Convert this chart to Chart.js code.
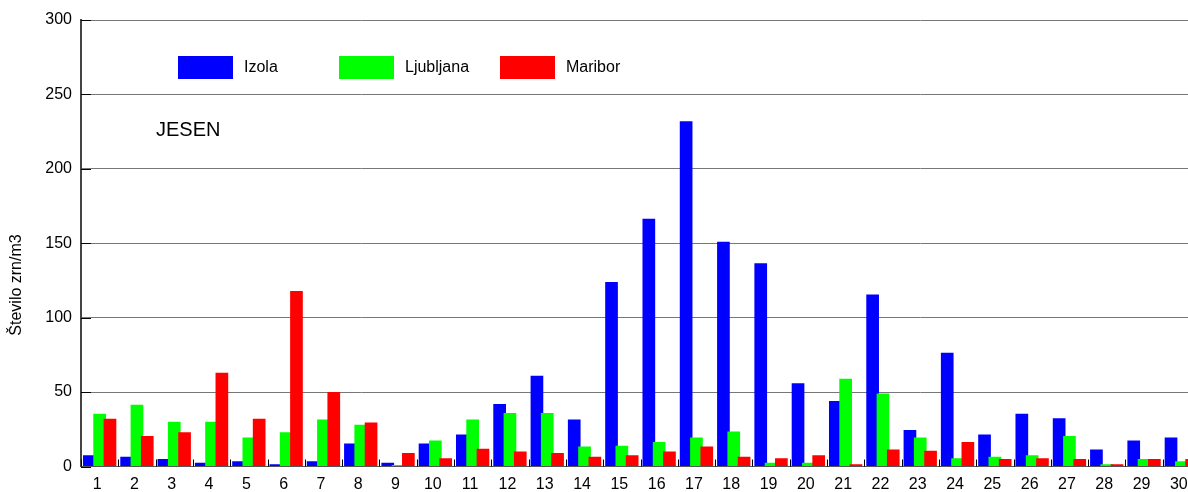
<!DOCTYPE html>
<html>
<head>
<meta charset="utf-8">
<script src="https://cdn.jsdelivr.net/npm/chart.js@4.4.1/dist/chart.umd.min.js"></script>
<style>
  html, body { margin: 0; padding: 0; overflow: hidden; background: #fff; }
</style>
</head>
<body>
<canvas id="jesenChart" width="1204" height="492"></canvas>
<script>
var days = ['1','2','3','4','5','6','7','8','9','10','11','12','13','14','15','16','17','18','19','20','21','22','23','24','25','26','27','28','29','30'];
var izola = [7.5, 6.5, 5, 2.5, 3.5, 1.5, 3.5, 15.5, 2.5, 15.5, 21.5, 42, 61, 31.5, 124, 166.5, 232, 151, 136.5, 56, 44, 115.5, 24.5, 76.5, 21.5, 35.5, 32.5, 11.5, 17.5, 19.5];
var ljubljana = [35.5, 41.5, 30, 30, 19.5, 23, 31.5, 28, 1, 17.5, 31.5, 36, 36, 13.5, 14, 16.5, 19.5, 23.5, 2.5, 2.5, 59, 49, 19.5, 5.5, 6.5, 7.5, 20.5, 1.5, 5, 3.5];
var maribor = [32, 20.5, 23, 63, 32, 118, 50, 29.5, 9, 5.5, 12, 10, 9, 6.5, 7.5, 10, 13.5, 6.5, 5.5, 7.5, 1.5, 11.5, 10.5, 16.5, 5, 5.5, 5, 1.5, 5, 5];
var yTicks = [0, 50, 100, 150, 200, 250, 300];
var seasonLabel = 'JESEN';
var yTitle = 'Število zrn/m3';

var FONT = '"Liberation Sans", Arial, sans-serif';

// draw datasets first-to-last so red overlaps green, green overlaps blue
var drawOrder = {
    id: 'drawOrder',
    beforeDatasetsDraw: function (chart) {
        var ctx = chart.ctx, a = chart.chartArea;
        ctx.save();
        ctx.beginPath();
        ctx.rect(a.left, a.top - 2, a.right - a.left, a.bottom - a.top + 2);
        ctx.clip();
        chart.data.datasets.forEach(function (d, i) {
            var meta = chart.getDatasetMeta(i);
            if (!meta.hidden) meta.controller.draw();
        });
        ctx.restore();
        return false;
    }
};

var extras = {
    id: 'extras',
    afterDraw: function (chart) {
        var ctx = chart.ctx, a = chart.chartArea;
        var xs = chart.scales.x, ys = chart.scales.y;
        ctx.save();
        // inward ticks
        ctx.strokeStyle = '#000';
        ctx.lineWidth = 1;
        ctx.beginPath();
        yTicks.forEach(function (v) {
            var y = Math.round(ys.getPixelForValue(v)) + 0.5;
            ctx.moveTo(a.left, y);
            ctx.lineTo(a.left + 10, y);
        });
        for (var i = 0; i <= days.length; i++) {
            var x = Math.round(xs.getPixelForValue(i - 0.5)) + 0.5;
            ctx.moveTo(x, a.bottom);
            ctx.lineTo(x, a.bottom - 7);
        }
        ctx.stroke();

        // legend
        ctx.font = '16px ' + FONT;
        ctx.textBaseline = 'middle';
        ctx.textAlign = 'left';
        chart.data.datasets.forEach(function (d, i) {
            var bx = 178 + i * 161;
            ctx.fillStyle = d.backgroundColor;
            ctx.fillRect(bx, 56, 55, 23);
            ctx.fillStyle = '#000';
            ctx.fillText(d.label, bx + 66, 68);
        });

        // season label
        ctx.font = '20px ' + FONT;
        ctx.fillText(seasonLabel, 156, 130);

        // y axis title
        ctx.font = '16px ' + FONT;
        ctx.translate(17, 285);
        ctx.rotate(-Math.PI / 2);
        ctx.textAlign = 'center';
        ctx.fillText(yTitle, 0, 0);
        ctx.restore();
    }
};

var ctx = document.getElementById('jesenChart').getContext('2d');

var myChart = new Chart(ctx, {
    type: 'bar',
    data: {
        labels: days,
        datasets: [
            { label: 'Izola', backgroundColor: '#0000ff', data: izola },
            { label: 'Ljubljana', backgroundColor: '#00ff00', data: ljubljana },
            { label: 'Maribor', backgroundColor: '#ff0000', data: maribor }
        ]
    },
    options: {
        responsive: false,
        animation: false,
        events: [],
        categoryPercentage: 0.83,
        barPercentage: 1.23,
        layout: {
            padding: { left: 0, right: 4, top: 20, bottom: 0 }
        },
        plugins: {
            legend: { display: false },
            title: { display: false },
            tooltip: { enabled: false }
        },
        scales: {
            y: {
                min: 0,
                max: 300,
                afterFit: function (s) { s.width = 81; },
                afterBuildTicks: function (s) { s.ticks = yTicks.map(function (v) { return { value: v }; }); },
                ticks: {
                    padding: 9,
                    font: { size: 16, family: FONT },
                    color: '#000'
                },
                grid: {
                    display: true,
                    drawTicks: false,
                    color: '#777',
                    lineWidth: 1
                },
                border: { display: true, color: '#444', width: 2 }
            },
            x: {
                afterFit: function (s) { s.height = 25.5; },
                ticks: {
                    padding: 8,
                    labelOffset: -2.5,
                    maxRotation: 0,
                    minRotation: 0,
                    autoSkip: false,
                    font: { size: 16, family: FONT },
                    color: '#000'
                },
                grid: {
                    display: false,
                    drawTicks: false
                },
                border: { display: true, color: '#555', width: 1 }
            }
        }
    },
    plugins: [drawOrder, extras]
});
</script>
</body>
</html>
